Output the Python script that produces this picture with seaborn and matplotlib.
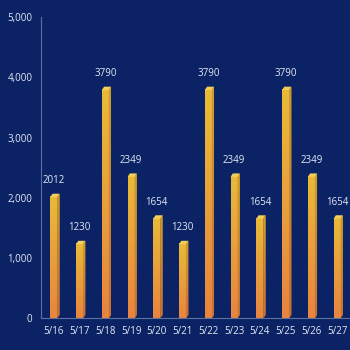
import numpy as np
import pandas as pd
import matplotlib
matplotlib.use("Agg")
import matplotlib.pyplot as plt
import seaborn as sns
from matplotlib.patches import Polygon
from matplotlib.colors import LinearSegmentedColormap
from matplotlib.ticker import FuncFormatter

dates = ["5/16", "5/17", "5/18", "5/19", "5/20", "5/21", "5/22", "5/23", "5/24", "5/25", "5/26", "5/27"]
values = [2012, 1230, 3790, 2349, 1654, 1230, 3790, 2349, 1654, 3790, 2349, 1654]
yticks = [0, 1000, 2000, 3000, 4000, 5000]

bg = "#0b2364"
txt = "#e3e9f5"
sns.set_style("dark")
plt.rcParams['font.family'] = ['Open Sans', 'DejaVu Sans']

fig = plt.figure(figsize=(3.5, 3.5), dpi=100, facecolor=bg)
ax = fig.add_axes([0.117, 0.091, 0.883, 0.86])
ax.set_facecolor(bg)

df = pd.DataFrame({"date": dates, "value": values})
sns.barplot(data=df, x="date", y="value", ax=ax, width=0.27, color="#e8a03c", saturation=1)

cmap = LinearSegmentedColormap.from_list("g", ["#e8843f", "#e9bb38"])
grad = np.linspace(0, 1, 256).reshape(-1, 1)
dx = 0.085
dy = 55
for p, v in zip(ax.patches, values):
    x0 = p.get_x(); w = p.get_width(); x1 = x0 + w; top = p.get_height()
    p.set_visible(False)
    im = ax.imshow(grad, cmap=cmap, origin="lower", aspect="auto",
                   extent=[x0, x1, 0, top], zorder=2)
    side = Polygon([(x1, 0), (x1 + dx, dy), (x1 + dx, top + dy), (x1, top)],
                   closed=True, facecolor="#c98a30", edgecolor="none", zorder=2)
    ax.add_patch(side)
    im2 = ax.imshow(grad, cmap=LinearSegmentedColormap.from_list("s", ["#c96f35", "#cf9e2c"]),
                    origin="lower", aspect="auto", extent=[x1, x1 + dx, 0, top + dy], zorder=2)
    im2.set_clip_path(side)
    cap = Polygon([(x0, top), (x1, top), (x1 + dx, top + dy), (x0 + dx, top + dy)],
                  closed=True, facecolor="#f3cf5a", edgecolor="none", zorder=3)
    ax.add_patch(cap)
    ax.text(x0 + w / 2, top + 180, f"{v}", ha="center", va="bottom", color=txt, fontsize=7)

ax.set_xlim(-0.5, len(dates) - 0.5)
ax.set_ylim(0, 5000)
ax.set_yticks(yticks)
ax.yaxis.set_major_formatter(FuncFormatter(lambda v, _: f"{int(v):,}"))
ax.set_xlabel("")
ax.set_ylabel("")
ax.grid(False)
ax.tick_params(axis="both", length=0, colors=txt, labelsize=7)
ax.tick_params(axis="x", pad=6)
ax.tick_params(axis="y", pad=6)
for s in ["top", "right"]:
    ax.spines[s].set_visible(False)
for s in ["left", "bottom"]:
    ax.spines[s].set_visible(True)
    ax.spines[s].set_color("#5d72a3")
    ax.spines[s].set_linewidth(0.8)

fig.savefig("out.png", dpi=100, facecolor=bg)
